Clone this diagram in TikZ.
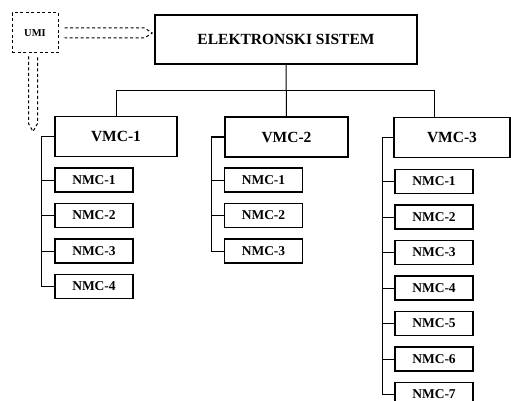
\documentclass[tikz,border=0pt]{standalone}
\usepackage{fontspec}
\setmainfont{Liberation Serif}
\usetikzlibrary{calc}
\begin{document}
\begin{tikzpicture}[x=1pt,y=-1pt,
  box/.style={draw, line width=1.3pt, inner sep=0pt, font=\bfseries},
  mainbox/.style={box, minimum width=262pt, minimum height=49pt, font=\bfseries\fontsize{15.5}{17}\selectfont},
  vmcbox/.style={box, minimum height=40pt, font=\bfseries\fontsize{15.5}{17}\selectfont},
  nmcbox/.style={box, minimum width=78pt, minimum height=24pt, font=\bfseries\fontsize{13.5}{15}\selectfont},
  umibox/.style={draw, dash pattern=on 3pt off 2.5pt, line width=1pt, minimum width=46pt, minimum height=40pt, inner sep=0pt, font=\bfseries\fontsize{10.5}{12}\selectfont},
  link/.style={line width=1pt},
  dline/.style={dash pattern=on 3pt off 2.5pt, line width=1pt, line join=round}]
\useasboundingbox (0,0) rectangle (511,401);
\clip (0,0) rectangle (511,401);

% top level
\node[umibox] (umi) at (35,33) {UMI};
\node[mainbox] (main) at (286,39.5) {ELEKTRONSKI SISTEM};

% second level
\node[vmcbox, minimum width=122pt] (v1) at (116,136.5) {VMC-1};
\node[vmcbox, minimum width=123pt] (v2) at (286.5,137) {VMC-2};
\node[vmcbox, minimum width=116pt] (v3) at (452,137.5) {VMC-3};

% third level, column 1
\foreach \i/\y in {1/180,2/215.5,3/251,4/286.5}
  \node[nmcbox] (a\i) at (94,\y) {NMC-\i};
% column 2
\foreach \i/\y in {1/180,2/215.5,3/251}
  \node[nmcbox] (b\i) at (263.5,\y) {NMC-\i};
% column 3
\foreach \i/\y in {1/181.5,2/217,3/252.5,4/288,5/323.5,6/359,7/394.5}
  \node[nmcbox] (c\i) at (434,\y) {NMC-\i};

% tree from the system box to the VMC boxes
\coordinate (bus) at ($(main.south)+(0,26)$);
\draw[link] (main.south) -- (v2.north);
\draw[link] (bus -| v1.north) -- (bus -| 434,0) -- (v3.north -| 434,0);
\draw[link] (bus -| v1.north) -- (v1.north);

% spines from each VMC box to its NMC boxes
\draw[link] (v1.west) -- ++(-13,0) |- (a4.west);
\foreach \i in {1,2,3} \draw[link] (a\i.west) -- ++(-13,0);
\draw[link] (v2.west) -- ++(-13,0) |- (b3.west);
\foreach \i in {1,2} \draw[link] (b\i.west) -- ++(-13,0);
\draw[link] (v3.west) -- ++(-11,0) |- (c7.west);
\foreach \i in {1,...,6} \draw[link] (c\i.west) -- ++(-11,0);

% dashed double arrows out of UMI
\coordinate (rtip) at ($(main.west |- umi.east)+(-2,0)$);
\draw[dline] ($(umi.east)+(6,-5)$) -- ($(rtip)+(-8,-5)$) -- (rtip)
  -- ($(rtip)+(-8,5)$) -- ($(umi.east)+(6,5)$);
\coordinate (dtip) at ($(umi.south)+(-2,78)$);
\draw[dline] ($(umi.south)+(-6.5,3)$) -- ($(dtip)+(-4.5,-8)$) -- (dtip)
  -- ($(dtip)+(4.5,-8)$) -- ($(umi.south)+(2.5,3)$);
\end{tikzpicture}
\end{document}
